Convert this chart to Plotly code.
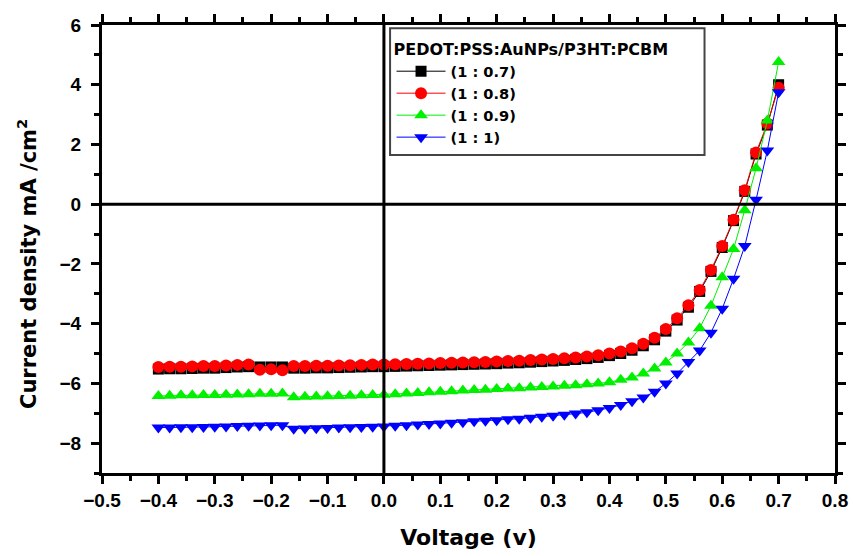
import plotly.graph_objects as go

# Bias voltage (V) for each measured point
voltage = [-0.40, -0.38, -0.36, -0.34, -0.32, -0.30, -0.28, -0.26, -0.24, -0.22,
           -0.20, -0.18, -0.16, -0.14, -0.12, -0.10, -0.08, -0.06, -0.04, -0.02,
           0.00, 0.02, 0.04, 0.06, 0.08, 0.10, 0.12, 0.14, 0.16, 0.18,
           0.20, 0.22, 0.24, 0.26, 0.28, 0.30, 0.32, 0.34, 0.36, 0.38,
           0.40, 0.42, 0.44, 0.46, 0.48, 0.50, 0.52, 0.54, 0.56, 0.58,
           0.60, 0.62, 0.64, 0.66, 0.68, 0.70]

# Current density (mA/cm^2) for each PEDOT:PSS:AuNPs ratio
j_07 = [-5.52, -5.51, -5.51, -5.50, -5.49, -5.49, -5.47, -5.45, -5.44, -5.45,
        -5.45, -5.45, -5.49, -5.49, -5.48, -5.48, -5.47, -5.46, -5.45, -5.44,
        -5.44, -5.43, -5.42, -5.41, -5.40, -5.39, -5.38, -5.37, -5.36, -5.35,
        -5.34, -5.32, -5.31, -5.29, -5.27, -5.25, -5.23, -5.20, -5.17, -5.13,
        -5.07, -5.00, -4.89, -4.74, -4.54, -4.25, -3.88, -3.45, -2.92, -2.25,
        -1.45, -0.55, 0.43, 1.68, 2.65, 4.00]

j_08 = [-5.45, -5.44, -5.44, -5.43, -5.42, -5.42, -5.40, -5.38, -5.37, -5.54,
        -5.53, -5.56, -5.42, -5.42, -5.41, -5.41, -5.40, -5.39, -5.38, -5.37,
        -5.37, -5.36, -5.35, -5.34, -5.33, -5.32, -5.31, -5.30, -5.29, -5.28,
        -5.27, -5.25, -5.24, -5.22, -5.20, -5.18, -5.16, -5.13, -5.10, -5.06,
        -5.00, -4.93, -4.82, -4.67, -4.47, -4.18, -3.82, -3.38, -2.87, -2.20,
        -1.40, -0.52, 0.47, 1.73, 2.70, 3.90]

j_09 = [-6.42, -6.41, -6.40, -6.40, -6.39, -6.39, -6.38, -6.37, -6.36, -6.35,
        -6.35, -6.34, -6.46, -6.45, -6.44, -6.43, -6.42, -6.41, -6.40, -6.39,
        -6.38, -6.36, -6.34, -6.32, -6.30, -6.28, -6.26, -6.24, -6.22, -6.21,
        -6.19, -6.17, -6.16, -6.14, -6.12, -6.10, -6.08, -6.06, -6.03, -6.00,
        -5.96, -5.88, -5.80, -5.67, -5.50, -5.30, -5.00, -4.63, -4.15, -3.40,
        -2.45, -1.50, -0.20, 1.20, 2.80, 4.76]

j_10 = [-7.48, -7.48, -7.47, -7.47, -7.46, -7.45, -7.44, -7.43, -7.42, -7.41,
        -7.40, -7.40, -7.52, -7.51, -7.50, -7.49, -7.48, -7.47, -7.46, -7.45,
        -7.44, -7.42, -7.40, -7.38, -7.36, -7.34, -7.32, -7.30, -7.27, -7.25,
        -7.23, -7.20, -7.18, -7.15, -7.12, -7.08, -7.05, -7.01, -6.97, -6.90,
        -6.82, -6.72, -6.60, -6.47, -6.28, -6.00, -5.67, -5.28, -4.90, -4.30,
        -3.50, -2.50, -1.40, 0.15, 1.80, 3.75]

series_names = ["(1 : 0.7)", "(1 : 0.8)", "(1 : 0.9)", "(1 : 1)"]
series_values = [j_07, j_08, j_09, j_10]
colors = ["#000000", "#ff0000", "#00f000", "#0000ff"]
symbols = ["square", "circle", "triangle-up", "triangle-down"]
marker_sizes = [11, 12, 12, 12]

TICK_FONT = "Liberation Sans, Arial, sans-serif"
TEXT_FONT = "DejaVu Sans, Verdana, sans-serif"

fig = go.Figure()
for name, vals, col, sym, ms in zip(series_names, series_values, colors, symbols, marker_sizes):
    fig.add_trace(go.Scatter(
        x=voltage[:len(vals)], y=vals, name=name, mode="lines+markers",
        line=dict(color=col, width=1),
        marker=dict(symbol=sym, size=ms, color=col, line=dict(width=0)),
    ))

axis_common = dict(
    showline=True, linecolor="black", linewidth=3, mirror="allticks",
    ticks="outside", ticklen=8, tickwidth=2.5, tickcolor="black",
    showgrid=False, zeroline=False, automargin=False,
    tickfont=dict(family=TICK_FONT, size=19, color="black", weight="bold"),
)

fig.update_xaxes(
    range=[-0.5, 0.8], tick0=-0.5, dtick=0.1, tickformat=".1f",
    minor=dict(ticks="outside", ticklen=5, tickwidth=2.5, tickcolor="black", dtick=0.05, tick0=-0.5),
    title=dict(text="Voltage (v)", font=dict(family=TEXT_FONT, size=22, color="black", weight="bold"),
               standoff=20),
    **axis_common,
)
fig.update_yaxes(
    range=[-9, 6], tick0=0, dtick=2, ticklabelstandoff=6,
    minor=dict(ticks="outside", ticklen=5, tickwidth=2.5, tickcolor="black", dtick=1, tick0=0),
    **axis_common,
)

# Y axis title, placed as a rotated annotation to sit slightly below centre
fig.add_annotation(
    text="Current density mA /cm<sup>2</sup>", textangle=-90,
    xref="paper", yref="paper", x=-0.102, y=0.467,
    xanchor="center", yanchor="middle", showarrow=False,
    font=dict(family=TEXT_FONT, size=21, color="black", weight="bold"),
)

# Zero reference lines drawn over the data
fig.add_shape(type="line", xref="x", yref="paper", x0=0, x1=0, y0=0, y1=1,
              line=dict(color="black", width=3), layer="above")
fig.add_shape(type="line", xref="paper", yref="y", x0=0, x1=1, y0=0, y1=0,
              line=dict(color="black", width=3), layer="above")

# Legend frame
fig.add_shape(type="rect", xref="paper", yref="paper", x0=0.393, x1=0.822, y0=0.710, y1=0.993,
              line=dict(color="#444444", width=2), fillcolor="white", layer="below")

fig.update_layout(
    width=853, height=556,
    margin=dict(l=102, r=18, t=25, b=83),
    paper_bgcolor="white", plot_bgcolor="white",
    showlegend=True,
    legend=dict(
        x=0.395, y=0.979, xanchor="left", yanchor="top",
        bgcolor="rgba(0,0,0,0)", borderwidth=0,
        title=dict(text="PEDOT:PSS:AuNPs/P3HT:PCBM",
                   font=dict(family=TEXT_FONT, size=16, color="black", weight="bold")),
        font=dict(family=TEXT_FONT, size=14.6, color="black", weight="bold"),
        tracegroupgap=0, itemwidth=49,
    ),
)

fig.write_html("out.html")
